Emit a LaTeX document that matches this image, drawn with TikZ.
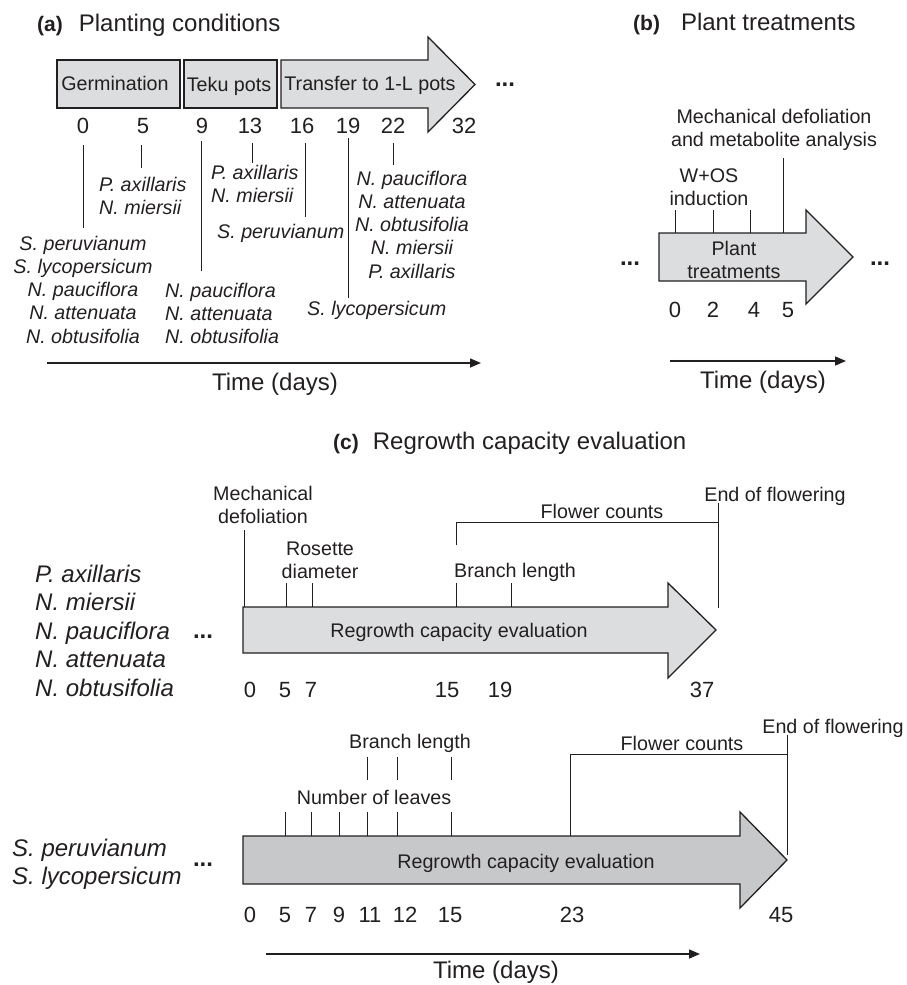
\documentclass[tikz,border=0pt]{standalone}
\usepackage{fontspec}
\setmainfont{Liberation Sans}
\usetikzlibrary{arrows.meta}
\definecolor{ink}{HTML}{231F20}
\definecolor{lightfill}{HTML}{DCDDDE}
\definecolor{darkfill}{HTML}{C7C8CA}
\newcommand\myfs[1]{\fontsize{#1}{23.3}\selectfont}
\begin{document}
\begin{tikzpicture}[x=1pt,y=-1pt,
  txt/.style={inner sep=0pt, text=ink, font=\myfs{19.7}},
  spc/.style={inner sep=0pt, text=ink, font=\myfs{19.7}\itshape},
  spcb/.style={inner sep=0pt, text=ink, font=\fontsize{24}{28.5}\selectfont\itshape, align=left, anchor=north west},
  num/.style={inner sep=0pt, text=ink, font=\myfs{22}, anchor=base},
  ttl/.style={inner sep=0pt, text=ink, font=\myfs{24}, anchor=base west},
  ell/.style={inner sep=0pt, text=ink, font=\myfs{24}\bfseries, anchor=base},
  tick/.style={draw=ink, line width=1pt},
  shp/.style={draw=ink, line width=1.3pt, line join=miter},
  axis/.style={draw=ink, line width=1.5pt, -{Triangle[length=11pt,width=9pt]}}]
\useasboundingbox (0,0) rectangle (907,985);

% ---------------- (a) ----------------
\node[ttl] (ta) at (37,31) {{\bfseries\myfs{21}(a)}\hspace{16pt}Planting conditions};
\draw[shp, fill=lightfill] (57,60) rectangle (180,108);
\draw[shp, fill=lightfill] (184,60) rectangle (277,108);
\draw[shp, fill=lightfill] (281,60) -- (428,60) -- (428,37) -- (475,84.5) -- (428,132) -- (428,108) -- (281,108) -- cycle;
\node[txt, anchor=base] (germ) at (115,90) {Germination};
\node[txt, anchor=base] (teku) at (229,91) {Teku pots};
\node[txt, anchor=base] (trans) at (370,90) {Transfer to 1-L pots};
\node[ell] (adots) at (505,86) {...};

\node[num] (n0) at (83,133) {0};
\node[num] (n5) at (143,133) {5};
\node[num] (n9) at (202,133) {9};
\node[num] (n13) at (250,133) {13};
\node[num] (n16) at (302,133) {16};
\node[num] (n19) at (348,133) {19};
\node[num] (n22) at (393,133) {22};
\node[num] (n32) at (464,133) {32};

\node[spc, align=center, anchor=north] (s0) at (83,235.6) {S. peruvianum\\S. lycopersicum\\N. pauciflora\\N. attenuata\\N. obtusifolia};
\node[spc, align=left, anchor=north west] (s5) at (99,176.6) {P. axillaris\\N. miersii};
\node[spc, align=left, anchor=north west] (s9) at (165,282.6) {N. pauciflora\\N. attenuata\\N. obtusifolia};
\node[spc, align=left, anchor=north west] (s13) at (211,164.6) {P. axillaris\\N. miersii};
\node[spc, anchor=base west] (s16) at (217,238) {S. peruvianum};
\node[spc, anchor=base west] (s19) at (307,315) {S. lycopersicum};
\node[spc, align=center, anchor=north] (s22) at (412,170.6) {N. pauciflora\\N. attenuata\\N. obtusifolia\\N. miersii\\P. axillaris};

\coordinate (a0t) at (83,145);  \coordinate (a0b) at (83,228);
\coordinate (a5t) at (141,145); \coordinate (a5b) at (141,168);
\coordinate (a9t) at (201,141); \coordinate (a9b) at (201,271);
\coordinate (a13t) at (252,143); \coordinate (a13b) at (252,163);
\coordinate (a16t) at (305,143); \coordinate (a16b) at (305,217);
\coordinate (a19t) at (348,138); \coordinate (a19b) at (348,298);
\coordinate (a22t) at (393,143); \coordinate (a22b) at (393,165);
\foreach \k in {0,5,9,13,16,19,22} \draw[tick] (a\k t) -- (a\k b);

\coordinate (axa1) at (47,363); \coordinate (axa2) at (481,363);
\draw[axis] (axa1) -- (axa2);
\node[txt, font=\myfs{24}, anchor=base] (tda) at (275,390) {Time (days)};

% ---------------- (b) ----------------
\node[ttl] (tb) at (633,30.5) {{\bfseries\myfs{21}(b)}\hspace{21pt}Plant treatments};
\node[txt, align=center, anchor=north] (mda) at (774,109) {Mechanical defoliation\\and metabolite analysis};
\node[txt, align=center, anchor=north] (wos) at (709,168.6) {W+OS\\induction};
\draw[shp, fill=lightfill] (659,233) -- (806,233) -- (806,210) -- (853,257) -- (806,304) -- (806,281) -- (659,281) -- cycle;
\node[txt, align=center, anchor=north] (ptr) at (734,240.6) {Plant\\treatments};
\node[ell] (bdl) at (630,265) {...};
\node[ell] (bdr) at (880,265) {...};
\coordinate (b0t) at (675,210); \coordinate (b0b) at (675,233);
\coordinate (b2t) at (713,210); \coordinate (b2b) at (713,233);
\coordinate (b4t) at (750,210); \coordinate (b4b) at (750,233);
\coordinate (b5t) at (783,158); \coordinate (b5b) at (783,233);
\foreach \k in {0,2,4,5} \draw[tick] (b\k t) -- (b\k b);
\node[num] (bn0) at (675,317) {0};
\node[num] (bn2) at (713,317) {2};
\node[num] (bn4) at (754,317) {4};
\node[num] (bn5) at (788,317) {5};
\coordinate (axb1) at (670,361); \coordinate (axb2) at (846,361);
\draw[axis] (axb1) -- (axb2);
\node[txt, font=\myfs{24}, anchor=base] (tdb) at (763,388) {Time (days)};

% ---------------- (c) ----------------
\node[ttl] (tc) at (333,449.5) {{\bfseries\myfs{21}(c)}\hspace{14pt}Regrowth capacity evaluation};

% c1
\node[spcb] (sc1) at (35,564.5) {P. axillaris\\N. miersii\\N. pauciflora\\N. attenuata\\N. obtusifolia};
\node[ell] (c1d) at (203,638) {...};
\node[txt, align=center, anchor=north] (mdc) at (263,485.6) {Mechanical\\defoliation};
\node[txt, align=center, anchor=north] (ros) at (320,541.6) {Rosette\\diameter};
\node[txt, anchor=base] (br1) at (515,577) {Branch length};
\node[txt, anchor=base] (fc1) at (602,518) {Flower counts};
\node[txt, anchor=base] (ef1) at (775,501) {End of flowering};
\draw[shp, fill=lightfill] (243,607) -- (668,607) -- (668,583) -- (716,630) -- (668,678) -- (668,653) -- (243,653) -- cycle;
\node[txt, anchor=base] (rg1) at (459,637) {Regrowth capacity evaluation};
\coordinate (c0t) at (244,530); \coordinate (c0b) at (244,607);
\coordinate (c5t) at (286,583); \coordinate (c5b) at (286,607);
\coordinate (c7t) at (312,583); \coordinate (c7b) at (312,607);
\coordinate (c15t) at (456,583); \coordinate (c15b) at (456,607);
\coordinate (c19t) at (511,583); \coordinate (c19b) at (511,607);
\foreach \k in {0,5,7,15,19} \draw[tick] (c\k t) -- (c\k b);
\coordinate (f1a) at (456,545); \coordinate (f1b) at (456,522); \coordinate (f1c) at (718,522);
\draw[tick] (f1a) -- (f1b) -- (f1c);
\coordinate (e1t) at (718,503); \coordinate (e1b) at (718,608);
\draw[tick] (e1t) -- (e1b);
\node[num] (cn0) at (250,697) {0};
\node[num] (cn5) at (285,697) {5};
\node[num] (cn7) at (311,697) {7};
\node[num] (cn15) at (447,697) {15};
\node[num] (cn19) at (500,697) {19};
\node[num] (cn37) at (702,697) {37};

% c2
\node[spcb] (sc2) at (12,838.5) {S. peruvianum\\S. lycopersicum};
\node[ell] (c2d) at (203,866) {...};
\node[txt, anchor=base] (ef2) at (833,733) {End of flowering};
\node[txt, anchor=base] (fc2) at (682,750) {Flower counts};
\node[txt, anchor=base] (br2) at (410,748) {Branch length};
\node[txt, anchor=base] (nl2) at (374,804) {Number of leaves};
\draw[shp, fill=darkfill] (243,836) -- (740,836) -- (740,812) -- (787,860) -- (740,908) -- (740,884) -- (243,884) -- cycle;
\node[txt, anchor=base] (rg2) at (526,868) {Regrowth capacity evaluation};
\foreach \x [count=\i] in {367,397,451} {
  \coordinate (bl\i t) at (\x,757); \coordinate (bl\i b) at (\x,780);
  \draw[tick] (bl\i t) -- (bl\i b);}
\foreach \x [count=\i] in {285,311,339,367,397,451} {
  \coordinate (nl\i t) at (\x,812); \coordinate (nl\i b) at (\x,836);
  \draw[tick] (nl\i t) -- (nl\i b);}
\coordinate (f2a) at (570,836); \coordinate (f2b) at (570,754); \coordinate (f2c) at (787,754);
\draw[tick] (f2a) -- (f2b) -- (f2c);
\coordinate (e2t) at (787,735); \coordinate (e2b) at (787,855);
\draw[tick] (e2t) -- (e2b);
\node[num] (dn0) at (250,922) {0};
\node[num] (dn5) at (285,922) {5};
\node[num] (dn7) at (311,922) {7};
\node[num] (dn9) at (339,922) {9};
\node[num] (dn11) at (370,922) {11};
\node[num] (dn12) at (405,922) {12};
\node[num] (dn15) at (450,922) {15};
\node[num] (dn23) at (572,922) {23};
\node[num] (dn45) at (781,922) {45};
\coordinate (axc1) at (266,954); \coordinate (axc2) at (700,954);
\draw[axis] (axc1) -- (axc2);
\node[txt, font=\myfs{24}, anchor=base] (tdc) at (496,978) {Time (days)};
\end{tikzpicture}
\end{document}
